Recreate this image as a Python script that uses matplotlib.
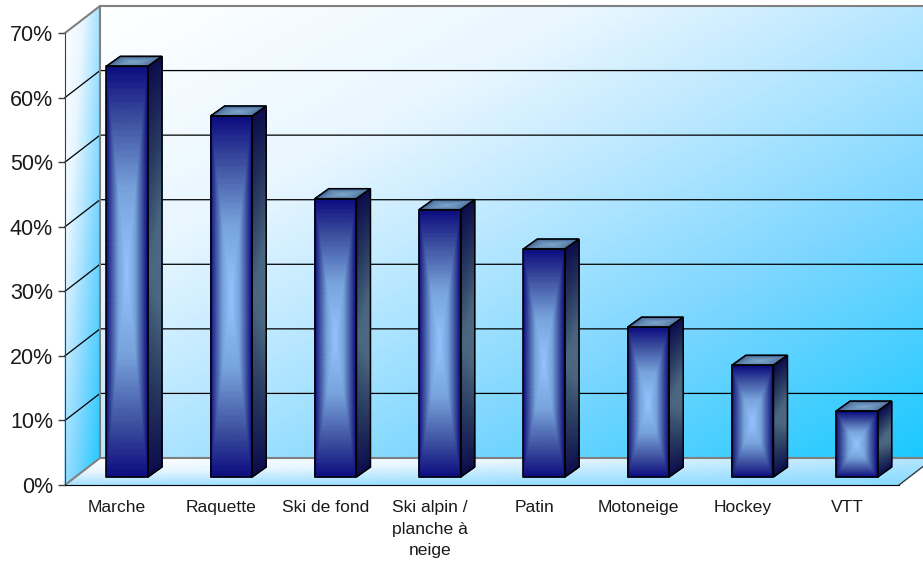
import matplotlib
matplotlib.use("Agg")
import matplotlib.pyplot as plt
from matplotlib.colors import LinearSegmentedColormap
from matplotlib.patches import Polygon
import numpy as np

plt.rcParams["font.family"] = ["Liberation Sans", "DejaVu Sans"]

categories = ["Marche", "Raquette", "Ski de fond", "Ski alpin /\nplanche à\nneige",
              "Patin", "Motoneige", "Hockey", "VTT"]
values = [63.6, 55.9, 43.1, 41.4, 35.3, 23.2, 17.3, 10.2]
y_ticks = [0, 10, 20, 30, 40, 50, 60, 70]
y_labels = ["0%", "10%", "20%", "30%", "40%", "50%", "60%", "70%"]

WIDTH, HEIGHT = 923, 565
LEFT, RIGHT, BASE, TOP = 65, 899, 485, 33   # plot frame in pixels
XPP = len(categories) / (RIGHT - LEFT)      # data units per pixel
YPP = 70 / (BASE - TOP)

WALL_DX, WALL_DY = 35 * XPP, 27 * YPP
PLANE_DX, PLANE_DY = 10 * XPP, 8 * YPP      # bars stand a bit behind the front edge
BAR_W = 0.4
BAR_DX, BAR_DY = 14 * XPP, 10 * YPP

wall_cmap = LinearSegmentedColormap.from_list(
    "wall", [(0, "#ffffff"), (0.3, "#e8f6ff"), (0.5, "#b5e6ff"), (0.7, "#7dd6ff"), (1, "#18c8ff")])
front_cmap = LinearSegmentedColormap.from_list(
    "front", [(0, "#94c4ff"), (0.4, "#78a4dc"), (0.75, "#3c4e9e"), (1, "#0c0c80")])
side_cmap = LinearSegmentedColormap.from_list(
    "side", [(0, "#0c0e4c"), (0.4, "#2a3d63"), (0.75, "#4a6680"), (1, "#4d6a85")])
top_cmap = LinearSegmentedColormap.from_list("top", ["#3f5f90", "#7ea8cc"])


def shade(ax, origin, e1, e2, func, cmap, zorder, n=60):
    """Gouraud-shaded parallelogram; func(s, t) gives colour position in 0..1."""
    s, t = np.meshgrid(np.linspace(0, 1, n), np.linspace(0, 1, n))
    X = origin[0] + s * e1[0] + t * e2[0]
    Y = origin[1] + s * e1[1] + t * e2[1]
    ax.pcolormesh(X, Y, func(s, t), cmap=cmap, vmin=0, vmax=1,
                  shading="gouraud", zorder=zorder)


def outline(ax, origin, e1, e2, zorder):
    o = np.array(origin)
    pts = [o, o + e1, o + np.array(e1) + e2, o + e2]
    ax.add_patch(Polygon(pts, closed=True, fill=False, edgecolor="black",
                         linewidth=1.1, zorder=zorder))


fig = plt.figure(figsize=(WIDTH / 100, HEIGHT / 100), dpi=100)
ax = fig.add_axes([0, 0, 1, 1])
ax.patch.set_visible(False)

n_cat = len(categories)
ax.set_xlim(-LEFT * XPP, (WIDTH - LEFT) * XPP)
ax.set_ylim(-(HEIGHT - BASE) * YPP, BASE * YPP)

# walls and floor
shade(ax, (WALL_DX, 70 + WALL_DY), (n_cat, 0), (0, -70), lambda s, t: (s + t) / 2, wall_cmap, 1)
shade(ax, (0, 70), (WALL_DX, WALL_DY), (0, -70),
      lambda s, t: 0.55 * s + 0.6 * t - 0.2 * s * t, wall_cmap, 1)
shade(ax, (WALL_DX, WALL_DY), (n_cat, 0), (-WALL_DX, -WALL_DY),
      lambda s, t: 0.5 * s + 0.55 * t - 0.4 * s * t, wall_cmap, 1)

# grid lines run over side wall then back wall
for v in y_ticks[1:-1]:
    ax.plot([0, WALL_DX, n_cat + WALL_DX], [v, v + WALL_DY, v + WALL_DY],
            color="black", lw=0.9, zorder=2)

frame = "#808080"
ax.plot([0, WALL_DX, n_cat + WALL_DX], [70, 70 + WALL_DY, 70 + WALL_DY], color=frame, lw=1.5, zorder=2)
ax.plot([WALL_DX, WALL_DX], [WALL_DY, 70 + WALL_DY], color=frame, lw=1.5, zorder=2)
ax.plot([0, WALL_DX, n_cat + WALL_DX], [0, WALL_DY, WALL_DY], color=frame, lw=1.5, zorder=2)
ax.plot([n_cat, n_cat + WALL_DX], [0, WALL_DY], color="#404040", lw=1, zorder=2)

# bars
for i, v in enumerate(values):
    x0 = i + 0.5 - BAR_W / 2 + PLANE_DX
    y0 = PLANE_DY
    front = ((x0, y0), (BAR_W, 0), (0, v))
    right = ((x0 + BAR_W, y0), (BAR_DX, BAR_DY), (0, v))
    roof = ((x0, y0 + v), (BAR_W, 0), (BAR_DX, BAR_DY))
    shade(ax, *front, lambda s, t: np.maximum(abs(2 * s - 1), abs(2 * t - 1)), front_cmap, 3)
    shade(ax, *right, lambda s, t: (1 - abs(2 * t - 1)) * (0.75 + 0.25 * s), side_cmap, 3)
    shade(ax, *roof, lambda s, t: np.sqrt(1 - np.maximum(abs(2 * s - 1), abs(2 * t - 1))), top_cmap, 3)
    for face in (front, right, roof):
        outline(ax, *face, 4)

# axes
for name in ("top", "right"):
    ax.spines[name].set_visible(False)
ax.spines["left"].set_position(("data", 0))
ax.spines["left"].set_bounds(0, 70)
ax.spines["left"].set_color("#404040")
ax.spines["bottom"].set_position(("data", 0))
ax.spines["bottom"].set_bounds(0, n_cat)
ax.spines["bottom"].set_color("black")
ax.spines["left"].set_zorder(5)
ax.spines["bottom"].set_zorder(5)

ax.set_yticks(y_ticks)
ax.set_yticklabels(y_labels, fontsize=15.5, color="#1a1a1a")
ax.tick_params(axis="y", length=5, width=1, color="#404040", pad=3.6)
ax.set_xticks(np.arange(n_cat) + 0.5)
ax.set_xticklabels(categories, fontsize=12.6, color="#1a1a1a", linespacing=1.52)
ax.tick_params(axis="x", length=0, pad=11)

fig.savefig("out.png", dpi=100)
plt.close(fig)
